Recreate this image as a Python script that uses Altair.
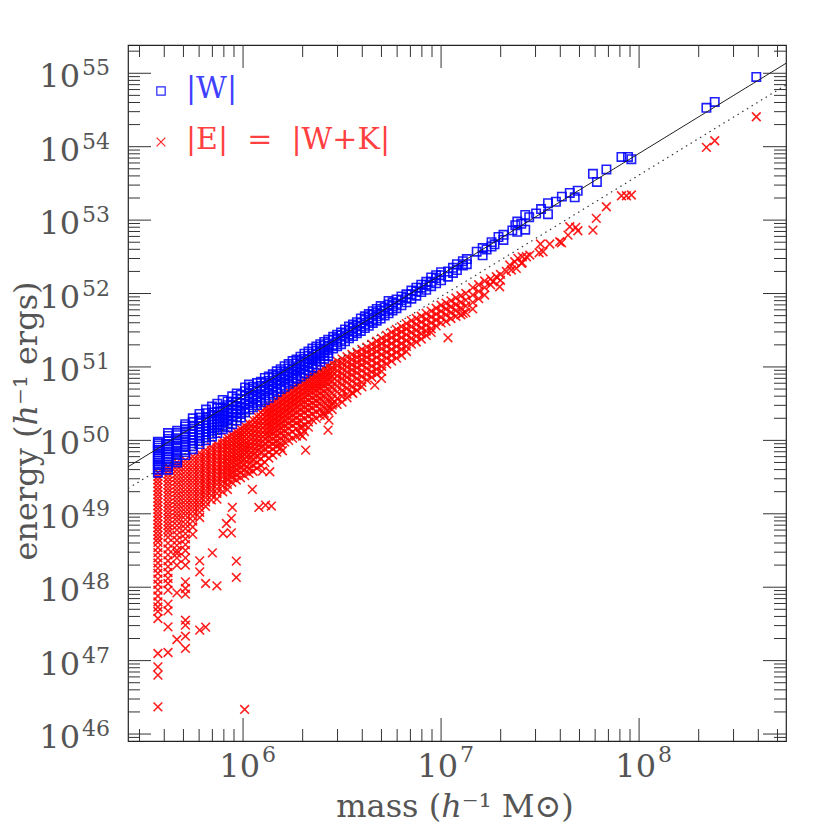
import altair as alt
import pandas as pd

# ---------------------------------------------------------------------------
# Data (log10 mass in h^-1 Msun, log10 energy in h^-1 ergs)
# Columns: (log10 mass, [log10 energies at that mass])
# ---------------------------------------------------------------------------
W_COLUMNS = [
    (5.570, [49.56, 49.60, 49.63, 49.66, 49.69, 49.72, 49.75, 49.78, 49.81, 49.84, 49.87, 49.90, 49.93, 49.96, 49.98]),
    (5.621, [49.60, 49.64, 49.67, 49.71, 49.74, 49.78, 49.81, 49.85, 49.88, 49.92, 49.95, 49.99, 50.02, 50.06, 50.10]),
    (5.667, [49.70, 49.73, 49.76, 49.80, 49.83, 49.86, 49.90, 49.93, 49.96, 50.00, 50.03, 50.07, 50.10, 50.13]),
    (5.708, [49.80, 49.84, 49.87, 49.91, 49.94, 49.98, 50.01, 50.05, 50.08, 50.12, 50.15, 50.19, 50.22]),
    (5.746, [49.88, 49.92, 49.96, 50.00, 50.04, 50.08, 50.12, 50.16, 50.20, 50.25, 50.30]),
    (5.780, [49.95, 49.99, 50.03, 50.07, 50.11, 50.15, 50.19, 50.23, 50.27, 50.31, 50.36]),
    (5.813, [50.00, 50.04, 50.08, 50.12, 50.16, 50.20, 50.24, 50.28, 50.32, 50.37, 50.42]),
    (5.843, [50.05, 50.09, 50.13, 50.17, 50.21, 50.25, 50.29, 50.33, 50.38, 50.46]),
    (5.870, [50.10, 50.14, 50.18, 50.22, 50.26, 50.30, 50.34, 50.39, 50.44, 50.50]),
    (5.897, [50.15, 50.20, 50.25, 50.30, 50.35, 50.40, 50.45, 50.55]),
    (5.922, [50.18, 50.23, 50.28, 50.33, 50.38, 50.43, 50.48, 50.53]),
    (5.945, [50.22, 50.27, 50.32, 50.37, 50.42, 50.47, 50.52, 50.60]),
    (5.968, [50.27, 50.32, 50.37, 50.42, 50.47, 50.52, 50.57, 50.64]),
    (5.989, [50.31, 50.36, 50.41, 50.46, 50.51, 50.56, 50.62]),
    (6.010, [50.38, 50.44, 50.50, 50.56, 50.61, 50.67, 50.72]),
    (6.030, [50.42, 50.48, 50.53, 50.59, 50.64, 50.70, 50.76]),
    (6.050, [50.45, 50.51, 50.57, 50.62, 50.68, 50.73]),
    (6.070, [50.48, 50.54, 50.60, 50.66, 50.71, 50.78]),
    (6.090, [50.52, 50.58, 50.63, 50.69, 50.74, 50.80]),
    (6.110, [50.55, 50.61, 50.67, 50.72, 50.78, 50.85]),
    (6.130, [50.58, 50.64, 50.70, 50.76, 50.81, 50.87]),
    (6.150, [50.62, 50.68, 50.73, 50.79, 50.85, 50.90]),
    (6.170, [50.66, 50.71, 50.77, 50.82, 50.88, 50.94]),
    (6.190, [50.70, 50.75, 50.80, 50.86, 50.91, 50.97]),
    (6.210, [50.73, 50.79, 50.84, 50.89, 50.94, 51.01]),
    (6.230, [50.77, 50.82, 50.87, 50.93, 50.98, 51.04]),
    (6.250, [50.80, 50.85, 50.91, 50.96, 51.01, 51.08]),
    (6.270, [50.84, 50.89, 50.94, 50.99, 51.05, 51.10]),
    (6.290, [50.87, 50.92, 50.97, 51.03, 51.08, 51.14]),
    (6.310, [50.91, 50.96, 51.01, 51.06, 51.11, 51.18]),
    (6.330, [50.95, 51.00, 51.05, 51.10, 51.15, 51.21]),
    (6.350, [50.99, 51.04, 51.09, 51.13, 51.18, 51.25]),
    (6.370, [51.03, 51.08, 51.12, 51.17, 51.22, 51.28]),
    (6.390, [51.07, 51.11, 51.16, 51.20, 51.25, 51.31]),
    (6.410, [51.11, 51.15, 51.20, 51.24, 51.29, 51.34]),
    (6.430, [51.15, 51.19, 51.23, 51.28, 51.32, 51.37]),
    (6.455, [51.25, 51.30, 51.37, 51.41]),
    (6.475, [51.28, 51.34, 51.39, 51.44]),
    (6.495, [51.31, 51.37, 51.43, 51.47]),
    (6.515, [51.35, 51.41, 51.46, 51.51]),
    (6.535, [51.39, 51.44, 51.49, 51.55]),
    (6.555, [51.42, 51.48, 51.53, 51.58]),
    (6.575, [51.46, 51.51, 51.56, 51.61]),
    (6.595, [51.49, 51.55, 51.60, 51.66]),
    (6.615, [51.53, 51.58, 51.64, 51.69]),
    (6.635, [51.56, 51.62, 51.67, 51.72]),
    (6.655, [51.60, 51.65, 51.71, 51.76]),
    (6.675, [51.63, 51.69, 51.74, 51.79]),
    (6.695, [51.66, 51.72, 51.77, 51.83]),
    (6.715, [51.70, 51.76, 51.81]),
    (6.735, [51.73, 51.79, 51.85, 51.90]),
    (6.755, [51.77, 51.83, 51.88]),
    (6.775, [51.80, 51.86, 51.92]),
    (6.800, [51.84, 51.91, 51.96]),
    (6.825, [51.88, 51.94, 51.99]),
    (6.850, [51.93, 51.99, 52.04]),
    (6.875, [51.97, 52.03, 52.08]),
    (6.900, [52.02, 52.08, 52.12]),
    (6.925, [52.05, 52.12, 52.16]),
    (6.950, [52.10, 52.16, 52.22]),
    (6.975, [52.14, 52.21, 52.25]),
    (7.000, [52.18, 52.25, 52.29]),
    (7.035, [52.23, 52.30]),
    (7.060, [52.28, 52.35]),
    (7.080, [52.32, 52.40]),
    (7.110, [52.38, 52.44]),
    (7.130, [52.40, 52.47]),
    (7.180, [52.57]),
    (7.210, [52.52, 52.62]),
    (7.230, [52.60]),
    (7.255, [52.64, 52.70]),
    (7.270, [52.67]),
    (7.290, [52.77]),
    (7.315, [52.73, 52.80]),
    (7.360, [52.86]),
    (7.375, [52.93]),
    (7.385, [52.84, 52.98]),
    (7.405, [52.95]),
    (7.425, [52.87, 53.07]),
    (7.445, [53.04]),
    (7.480, [53.09]),
    (7.505, [53.15]),
    (7.540, [53.08, 53.23]),
    (7.580, [53.25]),
    (7.610, [53.32]),
    (7.650, [53.37]),
    (7.675, [53.31]),
    (7.690, [53.40]),
    (7.767, [53.63]),
    (7.787, [53.52]),
    (7.835, [53.69]),
    (7.911, [53.86]),
    (7.944, [53.86]),
    (7.961, [53.83]),
    (8.340, [54.53]),
    (8.382, [54.61]),
    (8.592, [54.95]),
]

E_COLUMNS = [
    (5.570, [49.56, 49.51, 49.46, 49.41, 49.36, 49.31, 49.26, 49.21, 49.16, 49.11, 49.06, 49.01, 48.96, 48.91, 48.86,
             48.81, 48.76, 48.71, 48.66, 48.61, 48.54, 48.47, 48.40, 48.33, 48.26, 48.19, 48.11, 48.04, 47.96, 47.88,
             47.80, 47.73, 47.67]),
    (5.621, [49.64, 49.59, 49.54, 49.49, 49.44, 49.39, 49.34, 49.29, 49.24, 49.19, 49.14, 49.09, 49.04, 48.99, 48.94,
             48.89, 48.84, 48.79, 48.74, 48.68, 48.60, 48.52, 48.44, 48.36, 48.28, 48.20, 48.12, 48.05]),
    (5.666, [49.70, 49.65, 49.60, 49.55, 49.50, 49.45, 49.40, 49.35, 49.30, 49.25, 49.20, 49.15, 49.10, 49.05, 49.00,
             48.95, 48.90, 48.84, 48.78, 48.71, 48.64, 48.57, 48.50, 48.40, 48.30]),
    (5.709, [49.73, 49.68, 49.63, 49.58, 49.53, 49.48, 49.43, 49.38, 49.33, 49.28, 49.23, 49.18, 49.13, 49.08, 49.03,
             48.98, 48.92, 48.86, 48.80, 48.73, 48.66, 48.58, 48.50, 48.40, 48.30]),
    (5.746, [49.78, 49.73, 49.68, 49.63, 49.58, 49.53, 49.48, 49.43, 49.38, 49.33, 49.28, 49.23, 49.18, 49.13, 49.08,
             49.03, 48.97, 48.90, 48.82, 48.72]),
    (5.781, [49.83, 49.78, 49.73, 49.68, 49.63, 49.58, 49.53, 49.48, 49.43, 49.38, 49.33, 49.28, 49.23, 49.18, 49.13,
             49.08, 49.02, 48.95]),
    (5.811, [49.87, 49.82, 49.77, 49.72, 49.67, 49.62, 49.57, 49.52, 49.47, 49.42, 49.37, 49.32, 49.27, 49.22, 49.16, 49.10]),
    (5.840, [49.91, 49.86, 49.81, 49.76, 49.71, 49.66, 49.61, 49.56, 49.51, 49.46, 49.41, 49.36, 49.31, 49.25, 49.19]),
    (5.868, [49.95, 49.90, 49.85, 49.80, 49.75, 49.70, 49.65, 49.60, 49.55, 49.50, 49.45, 49.40, 49.34, 49.28, 49.20]),
    (5.897, [50.00, 49.95, 49.90, 49.85, 49.80, 49.75, 49.70, 49.65, 49.60, 49.55, 49.50, 49.44, 49.38, 49.30]),
    (5.921, [50.04, 49.99, 49.94, 49.89, 49.84, 49.79, 49.74, 49.69, 49.64, 49.59, 49.53, 49.47, 49.40, 49.33]),
    (5.943, [50.08, 50.03, 49.98, 49.93, 49.88, 49.83, 49.78, 49.73, 49.68, 49.62, 49.56, 49.50, 49.43]),
    (5.966, [50.12, 50.07, 50.02, 49.97, 49.92, 49.87, 49.82, 49.77, 49.72, 49.66, 49.60, 49.53, 49.46]),
    (5.987, [50.16, 50.11, 50.06, 50.01, 49.96, 49.91, 49.86, 49.81, 49.76, 49.70, 49.63, 49.56, 49.49]),
    (6.008, [50.20, 50.15, 50.10, 50.05, 50.00, 49.95, 49.90, 49.85, 49.80, 49.74, 49.67, 49.60, 49.52]),
    (6.030, [50.23, 50.17, 50.11, 50.05, 49.99, 49.93, 49.87, 49.81, 49.75, 49.68, 49.61, 49.55]),
    (6.050, [50.28, 50.22, 50.16, 50.10, 50.04, 49.98, 49.92, 49.86, 49.80, 49.73, 49.66, 49.58]),
    (6.070, [50.33, 50.27, 50.21, 50.15, 50.09, 50.03, 49.97, 49.91, 49.85, 49.78, 49.70, 49.62]),
    (6.090, [50.38, 50.32, 50.26, 50.20, 50.14, 50.08, 50.02, 49.96, 49.90, 49.83, 49.75, 49.66]),
    (6.110, [50.44, 50.38, 50.32, 50.26, 50.20, 50.14, 50.08, 50.02, 49.95, 49.88, 49.80, 49.70]),
    (6.130, [50.48, 50.42, 50.36, 50.30, 50.24, 50.18, 50.12, 50.06, 49.99, 49.92, 49.84, 49.76]),
    (6.150, [50.51, 50.45, 50.39, 50.33, 50.27, 50.21, 50.15, 50.09, 50.02, 49.95, 49.88, 49.80]),
    (6.170, [50.55, 50.49, 50.43, 50.37, 50.31, 50.25, 50.19, 50.13, 50.06, 49.99, 49.92, 49.84]),
    (6.190, [50.59, 50.53, 50.47, 50.41, 50.35, 50.29, 50.23, 50.17, 50.10, 50.03, 49.96, 49.90]),
    (6.210, [50.63, 50.57, 50.51, 50.45, 50.39, 50.33, 50.27, 50.20, 50.13, 50.06, 49.98]),
    (6.230, [50.67, 50.61, 50.55, 50.49, 50.43, 50.37, 50.30, 50.23, 50.16, 50.08, 50.00]),
    (6.250, [50.71, 50.65, 50.59, 50.53, 50.47, 50.41, 50.34, 50.27, 50.20, 50.12, 50.03]),
    (6.270, [50.75, 50.69, 50.63, 50.57, 50.51, 50.45, 50.38, 50.31, 50.24, 50.16, 50.06]),
    (6.290, [50.79, 50.73, 50.67, 50.61, 50.55, 50.49, 50.42, 50.35, 50.27, 50.18, 50.08]),
    (6.310, [50.83, 50.77, 50.71, 50.65, 50.59, 50.52, 50.45, 50.38, 50.30, 50.21, 50.12]),
    (6.330, [50.86, 50.80, 50.74, 50.68, 50.62, 50.55, 50.48, 50.41, 50.33, 50.25, 50.18]),
    (6.350, [50.89, 50.83, 50.77, 50.71, 50.65, 50.58, 50.51, 50.44, 50.36, 50.28]),
    (6.370, [50.92, 50.86, 50.80, 50.74, 50.68, 50.61, 50.54, 50.47, 50.39, 50.30]),
    (6.390, [50.95, 50.89, 50.83, 50.77, 50.71, 50.64, 50.57, 50.50, 50.42, 50.34]),
    (6.410, [50.98, 50.92, 50.86, 50.80, 50.74, 50.67, 50.60, 50.52, 50.44, 50.37]),
    (6.430, [51.01, 50.95, 50.89, 50.83, 50.77, 50.70, 50.62, 50.54, 50.46, 50.40]),
    (6.450, [51.05, 50.99, 50.93, 50.87, 50.80, 50.72, 50.64, 50.56, 50.48, 50.42]),
    (6.475, [51.08, 51.02, 50.95, 50.88, 50.81, 50.74, 50.66, 50.57, 50.49]),
    (6.500, [51.11, 51.05, 50.98, 50.91, 50.84, 50.76, 50.68, 50.60, 50.52]),
    (6.525, [51.14, 51.07, 51.00, 50.93, 50.86, 50.79, 50.71, 50.63, 50.58]),
    (6.550, [51.17, 51.10, 51.03, 50.96, 50.89, 50.81, 50.73, 50.65]),
    (6.575, [51.20, 51.13, 51.06, 50.99, 50.92, 50.84, 50.76, 50.68]),
    (6.600, [51.24, 51.17, 51.10, 51.03, 50.95, 50.87, 50.79, 50.73]),
    (6.625, [51.27, 51.20, 51.13, 51.06, 50.98, 50.90, 50.82]),
    (6.650, [51.31, 51.24, 51.17, 51.09, 51.01, 50.93, 50.86]),
    (6.675, [51.35, 51.28, 51.21, 51.13, 51.05, 50.97, 50.90]),
    (6.700, [51.39, 51.32, 51.25, 51.17, 51.09, 51.01, 50.94]),
    (6.725, [51.43, 51.36, 51.28, 51.20, 51.12, 51.04]),
    (6.750, [51.47, 51.40, 51.32, 51.24, 51.16, 51.08]),
    (6.775, [51.51, 51.44, 51.36, 51.28, 51.20, 51.12]),
    (6.800, [51.55, 51.48, 51.40, 51.32, 51.24, 51.16]),
    (6.825, [51.59, 51.52, 51.44, 51.36, 51.28, 51.21]),
    (6.850, [51.63, 51.55, 51.47, 51.39, 51.31]),
    (6.875, [51.66, 51.58, 51.50, 51.42, 51.34]),
    (6.900, [51.69, 51.61, 51.53, 51.45, 51.38]),
    (6.925, [51.73, 51.65, 51.57, 51.49, 51.43]),
    (6.950, [51.76, 51.68, 51.60, 51.52, 51.47]),
    (6.975, [51.80, 51.72, 51.64, 51.56]),
    (7.000, [51.84, 51.76, 51.68, 51.60]),
    (7.025, [51.87, 51.79, 51.71, 51.62]),
    (7.050, [51.90, 51.82, 51.74, 51.66]),
    (7.075, [51.94, 51.85, 51.77, 51.69]),
    (7.100, [51.97, 51.88, 51.80, 51.71]),
    (7.125, [52.00, 51.91, 51.83, 51.74]),
    (7.160, [52.08, 51.98, 51.88, 51.79]),
    (7.190, [52.12, 52.03, 51.93]),
    (7.220, [52.17, 52.08, 51.98]),
    (7.250, [52.20, 52.12]),
    (7.300, [52.26, 52.18]),
    (7.330, [52.30]),
    (7.410, [52.42, 52.50]),
]

# individual red points (outliers and the sparse high-mass end): (log10 mass, log10 |E|)
E_POINTS = [
    (5.570, 47.574), (5.570, 47.097), (5.570, 46.915), (5.570, 46.802), (5.570, 46.370),
    (5.621, 47.960), (5.621, 47.769), (5.621, 47.678), (5.621, 47.460), (5.621, 47.111),
    (5.666, 48.460), (5.666, 47.923), (5.666, 47.288),
    (5.709, 48.073), (5.709, 47.983), (5.709, 47.905), (5.709, 47.551), (5.709, 47.483),
    (5.709, 47.333), (5.709, 47.166),
    (5.781, 48.359), (5.781, 48.209), (5.781, 47.415), (5.811, 48.051), (5.811, 47.456),
    (5.845, 48.468), (5.868, 48.019), (5.899, 48.732), (5.916, 48.868), (5.941, 48.740),
    (5.941, 48.937), (5.946, 49.087), (5.966, 48.355), (5.966, 48.133), (6.008, 46.335),
    (6.047, 49.332), (6.080, 49.087), (6.098, 49.581), (6.114, 49.118), (6.135, 49.572),
    (6.143, 49.105), (6.199, 49.858), (6.300, 50.185), (6.300, 50.058), (6.316, 49.867),
    (6.412, 50.330), (6.429, 50.140), (6.434, 50.276), (6.454, 50.503), (6.555, 50.640),
    (6.665, 50.753), (6.699, 50.844), (7.035, 51.397), (7.111, 51.730),
    (7.262, 52.160), (7.279, 52.228), (7.296, 52.092), (7.347, 52.388), (7.355, 52.320),
    (7.372, 52.433), (7.380, 52.343), (7.388, 52.479), (7.406, 52.411), (7.431, 52.501),
    (7.448, 52.524), (7.495, 52.555), (7.502, 52.674), (7.515, 52.569), (7.549, 52.674),
    (7.599, 52.705), (7.608, 52.691), (7.641, 52.796), (7.650, 52.909), (7.680, 52.901),
    (7.691, 52.855), (7.767, 52.864), (7.784, 53.024), (7.835, 53.182), (7.911, 53.332),
    (7.936, 53.332), (7.961, 53.342), (8.340, 53.991), (8.382, 54.081), (8.592, 54.408),
]

# reference lines: |W| fit (solid) and half of it (dotted), at the axis ends
FIT_LOGM = [5.419, 8.742]
FIT_LOGW = [49.640, 55.136]
FIT_LOGHALF = [49.345, 54.841]

X_DOMAIN = [2.624e5, 5.52e8]
Y_DOMAIN = [8.04e45, 2.427e55]
X_EXPONENTS = [6, 7, 8]
Y_EXPONENTS = [46, 47, 48, 49, 50, 51, 52, 53, 54, 55]
MINOR_STEPS = [2, 3, 4, 5, 6, 7, 8, 9]

NB = "\u00a0"
LEGEND_W = "|W|"
LEGEND_E = "|E|" + NB * 2 + "=" + NB * 2 + "|W+K|"
X_TITLE = "mass (\u210e\u207b\u00b9 M\u2299)"
Y_TITLE = "energy (\u210e\u207b\u00b9 ergs)"

# ---------------------------------------------------------------------------
W, H = 658, 696
MAJ, MIN = 23, 12
FONT = "DejaVu Serif"
TXT = "#555555"
SW = 1.6


def flatten(columns, points=()):
    rows = [(10.0 ** m, 10.0 ** e) for m, es in columns for e in es]
    rows += [(10.0 ** m, 10.0 ** e) for m, e in points]
    return pd.DataFrame(rows, columns=["mass", "energy"])


dfW = flatten(W_COLUMNS)
dfE = flatten(E_COLUMNS, E_POINTS)

xs = alt.Scale(type="log", domain=X_DOMAIN, nice=False, zero=False)
ys = alt.Scale(type="log", domain=Y_DOMAIN, nice=False, zero=False)
X = alt.X("mass:Q", scale=xs, axis=None)
Y = alt.Y("energy:Q", scale=ys, axis=None)

XSHAPE = "M-1,-1L1,1M-1,1L1,-1"

red = alt.Chart(dfE).mark_point(
    shape=XSHAPE, size=76, filled=False, color="#ff0000",
    strokeWidth=SW, opacity=0.88
).encode(x=X, y=Y)

blue = alt.Chart(dfW).mark_point(
    shape="square", size=70, filled=False, color="#0000ff",
    strokeWidth=SW, opacity=0.88
).encode(x=X, y=Y)

dfSolid = pd.DataFrame({"mass": [10.0 ** m for m in FIT_LOGM], "energy": [10.0 ** e for e in FIT_LOGW]})
dfDot = pd.DataFrame({"mass": [10.0 ** m for m in FIT_LOGM], "energy": [10.0 ** e for e in FIT_LOGHALF]})
solid = alt.Chart(dfSolid).mark_line(color="#222222", strokeWidth=1, clip=True).encode(x=X, y=Y)
dotted = alt.Chart(dfDot).mark_line(color="#333333", strokeWidth=1.2, strokeDash=[1.5, 4], clip=True).encode(x=X, y=Y)

# ticks (inside the frame, all four sides)
x_major = pd.DataFrame({"mass": [10.0 ** k for k in X_EXPONENTS]})
x_minor = pd.DataFrame({"mass": [d * 10.0 ** k for k in range(5, 9) for d in MINOR_STEPS
                                 if X_DOMAIN[0] <= d * 10.0 ** k <= X_DOMAIN[1]]})
y_major = pd.DataFrame({"energy": [10.0 ** k for k in Y_EXPONENTS]})
y_minor = pd.DataFrame({"energy": [d * 10.0 ** k for k in range(45, 56) for d in MINOR_STEPS
                                   if Y_DOMAIN[0] <= d * 10.0 ** k <= Y_DOMAIN[1]]})

tick_layers = []
for df, ln in ((x_major, MAJ), (x_minor, MIN)):
    base = alt.Chart(df).mark_rule(color="#333333", strokeWidth=1)
    tick_layers.append(base.encode(x=X, y=alt.value(H - ln), y2=alt.value(H)))
    tick_layers.append(base.encode(x=X, y=alt.value(0), y2=alt.value(ln)))
for df, ln in ((y_major, MAJ), (y_minor, MIN)):
    base = alt.Chart(df).mark_rule(color="#333333", strokeWidth=1)
    tick_layers.append(base.encode(y=Y, x=alt.value(0), x2=alt.value(ln)))
    tick_layers.append(base.encode(y=Y, x=alt.value(W - ln), x2=alt.value(W)))

# tick labels: "10" plus raised exponent
ylab = pd.DataFrame({"energy": [10.0 ** k for k in Y_EXPONENTS],
                     "base": ["10"] * len(Y_EXPONENTS),
                     "exp": [str(k) for k in Y_EXPONENTS]})
xlab = pd.DataFrame({"mass": [10.0 ** k for k in X_EXPONENTS],
                     "base": ["10"] * len(X_EXPONENTS),
                     "exp": [str(k) for k in X_EXPONENTS]})

ybase = alt.Chart(ylab).mark_text(align="right", baseline="alphabetic", dy=14, font=FONT,
                                  fontSize=32, color=TXT).encode(y=Y, x=alt.value(-48), text="base:N")
yexp = alt.Chart(ylab).mark_text(align="left", baseline="alphabetic", dy=2, font=FONT,
                                 fontSize=22, color=TXT).encode(y=Y, x=alt.value(-46), text="exp:N")
xbase = alt.Chart(xlab).mark_text(align="right", baseline="alphabetic", dx=17, font=FONT,
                                  fontSize=32, color=TXT).encode(x=X, y=alt.value(H + 36), text="base:N")
xexp = alt.Chart(xlab).mark_text(align="left", baseline="alphabetic", dx=19, font=FONT,
                                 fontSize=22, color=TXT).encode(x=X, y=alt.value(H + 21), text="exp:N")

xtitle = alt.Chart(pd.DataFrame({"t": [X_TITLE]})).mark_text(
    align="center", baseline="alphabetic", font=FONT, fontSize=32, color=TXT
).encode(x=alt.value(327), y=alt.value(H + 76), text="t:N")
ytitle = alt.Chart(pd.DataFrame({"t": [Y_TITLE]})).mark_text(
    align="center", baseline="alphabetic", angle=270, font=FONT, fontSize=32, color=TXT
).encode(x=alt.value(-91), y=alt.value(376), text="t:N")

# legend
leg_sq = alt.Chart(pd.DataFrame({"k": ["W"]})).mark_point(
    shape="square", size=70, filled=False, color="#0000ff", strokeWidth=1.2, opacity=0.85
).encode(x=alt.value(33), y=alt.value(46))
leg_x = alt.Chart(pd.DataFrame({"k": ["E"]})).mark_point(
    shape=XSHAPE, size=76, filled=False, color="#ff0000", strokeWidth=1.2, opacity=0.85
).encode(x=alt.value(33), y=alt.value(97))
leg_wt = alt.Chart(pd.DataFrame({"t": [LEGEND_W]})).mark_text(
    align="left", baseline="middle", font=FONT, fontSize=30, color="#4040ff"
).encode(x=alt.value(58), y=alt.value(44), text="t:N")
leg_et = alt.Chart(pd.DataFrame({"t": [LEGEND_E]})).mark_text(
    align="left", baseline="middle", font=FONT, fontSize=30, color="#ff4040"
).encode(x=alt.value(58), y=alt.value(95), text="t:N")

chart = alt.layer(
    *tick_layers, red, blue, solid, dotted,
    ybase, yexp, xbase, xexp, xtitle, ytitle,
    leg_sq, leg_x, leg_wt, leg_et
).properties(
    width=W, height=H,
    padding={"left": 120, "top": 37, "right": 20, "bottom": 86},
    autosize=alt.AutoSizeParams(type="none"),
).configure_view(stroke="#222222", strokeWidth=1.2)

chart.save("out.html", embed_options={"renderer": "svg", "actions": False})
